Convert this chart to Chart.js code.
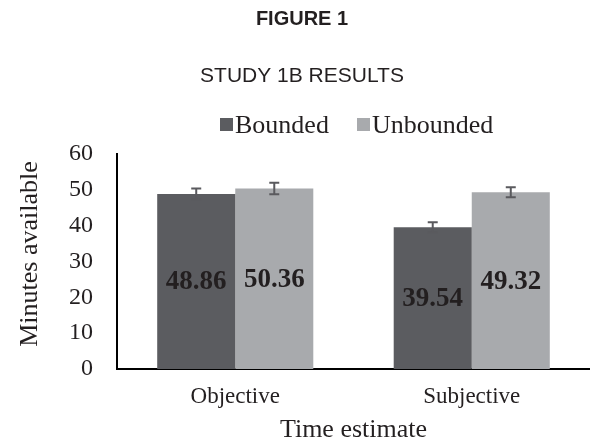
<!DOCTYPE html>
<html>
<head>
<meta charset="utf-8">
<script src="https://cdn.jsdelivr.net/npm/chart.js@4/dist/chart.umd.min.js"></script>
<style>
  html, body { margin: 0; padding: 0; background: #fff; }
  #wrap { width: 590px; height: 443px; position: relative; }
</style>
</head>
<body>
<div id="wrap"><canvas id="c" width="590" height="443"></canvas></div>
<script>
const categories = ["Objective", "Subjective"];
const seriesNames = ["Bounded", "Unbounded"];
const boundedValues = [48.86, 39.54];
const unboundedValues = [50.36, 49.32];
const boundedErrors = [1.5, 1.4];
const unboundedErrors = [1.6, 1.4];
const yTicks = [0, 10, 20, 30, 40, 50, 60];
const figureTitle = "FIGURE 1";
const figureSubtitle = "STUDY 1B RESULTS";
const yTitle = "Minutes available";
const xTitle = "Time estimate";

const TEXT = "#231f20";
const SERIF = "'Liberation Serif', 'Times New Roman', serif";
const SANS = "'Liberation Sans', Arial, sans-serif";

const errorsByDataset = [boundedErrors, unboundedErrors];

const extrasPlugin = {
  id: "extras",
  afterDatasetsDraw(chart) {
    const ctx = chart.ctx;
    const y = chart.scales.y;
    ctx.save();
    chart.data.datasets.forEach((ds, di) => {
      const meta = chart.getDatasetMeta(di);
      meta.data.forEach((bar, i) => {
        const v = ds.data[i];
        const e = errorsByDataset[di][i];
        const yt = y.getPixelForValue(v + e);
        const yb = y.getPixelForValue(v - e);
        ctx.strokeStyle = "#5a5a5e";
        ctx.lineWidth = 2;
        ctx.beginPath();
        ctx.moveTo(bar.x, yt); ctx.lineTo(bar.x, yb);
        ctx.moveTo(bar.x - 5, yt); ctx.lineTo(bar.x + 5, yt);
        ctx.moveTo(bar.x - 5, yb); ctx.lineTo(bar.x + 5, yb);
        ctx.stroke();
        const yc = (bar.y + bar.base) / 2;
        ctx.fillStyle = TEXT;
        ctx.font = "bold 27px " + SERIF;
        ctx.textAlign = "center";
        ctx.textBaseline = "middle";
        ctx.fillText(v.toFixed(2), bar.x, yc + 1);
      });
    });
    ctx.restore();
  },
  afterDraw(chart) {
    const ctx = chart.ctx;
    ctx.save();
    ctx.fillStyle = TEXT;
    ctx.textAlign = "center";
    ctx.textBaseline = "alphabetic";
    ctx.font = "bold 20px " + SANS;
    ctx.fillText(figureTitle, 302, 25);
    ctx.font = "21px " + SANS;
    ctx.fillText(figureSubtitle, 302, 82);
    // y axis title
    ctx.save();
    ctx.translate(30, 254);
    ctx.rotate(-Math.PI / 2);
    ctx.font = "26px " + SERIF;
    ctx.textBaseline = "middle";
    ctx.fillText(yTitle, 0, 0);
    ctx.restore();
    // legend
    ctx.font = "26px " + SERIF;
    ctx.textAlign = "left";
    ctx.textBaseline = "alphabetic";
    const legendX = [220, 357];
    chart.data.datasets.forEach((ds, di) => {
      const x = legendX[di];
      ctx.fillStyle = ds.backgroundColor;
      ctx.fillRect(x, 118, 13, 13);
      ctx.fillStyle = TEXT;
      ctx.fillText(ds.label, x + 15, 133);
    });
    ctx.restore();
  }
};

new Chart(document.getElementById("c"), {
  type: "bar",
  data: {
    labels: categories,
    datasets: [
      { label: seriesNames[0], data: boundedValues, backgroundColor: "#5b5c60" },
      { label: seriesNames[1], data: unboundedValues, backgroundColor: "#a8aaad" }
    ]
  },
  options: {
    responsive: false,
    animation: false,
    devicePixelRatio: 1,
    layout: { padding: { top: 154, left: 0, right: 0, bottom: 0 } },
    plugins: { legend: { display: false }, tooltip: { enabled: false }, title: { display: false } },
    datasets: { bar: { barPercentage: 1, categoryPercentage: 0.66 } },
    scales: {
      x: {
        grid: { display: false, drawTicks: false },
        border: { display: true, color: "#000", width: 2 },
        ticks: { color: TEXT, font: { family: SERIF, size: 23 }, padding: 14 },
        title: { display: true, text: xTitle, color: TEXT, font: { family: SERIF, size: 26, lineHeight: 1 }, padding: { top: 0, bottom: 0 } },
        afterFit(scale) { scale.height = 74; }
      },
      y: {
        min: 0, max: 60,
        afterBuildTicks(scale) { scale.ticks = yTicks.map(v => ({ value: v })); },
        grid: { display: false, drawTicks: false },
        border: { display: true, color: "#000", width: 2 },
        ticks: { color: TEXT, font: { family: SERIF, size: 24 }, padding: 24 },
        title: { display: false },
        afterFit(scale) { scale.width = 117; }
      }
    }
  },
  plugins: [extrasPlugin]
});
</script>
</body>
</html>
